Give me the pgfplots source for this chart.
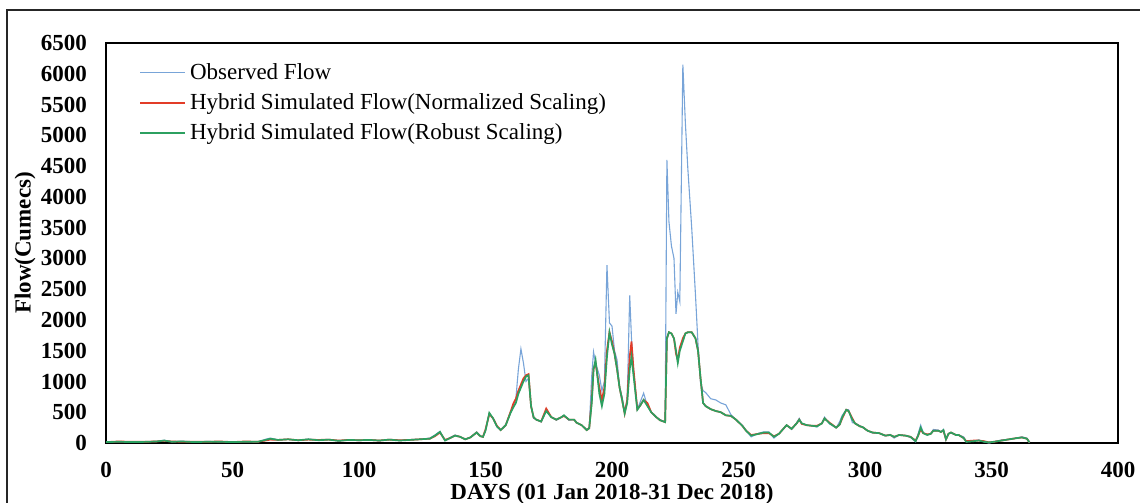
\documentclass[border=0pt]{standalone}
\usepackage{pgfplots}
\pgfplotsset{compat=1.18}
\usepackage{pgfplotstable}
\usepackage{fontspec}
\setmainfont{Liberation Serif}
\definecolor{obsblue}{RGB}{120,164,216}
\definecolor{simred}{RGB}{226,60,40}
\definecolor{simgreen}{RGB}{44,160,96}

\pgfplotstableread{
d O N R
0 20 15 15
5 20 25 20
10 15 20 15
15 20 20 18
20 25 25 25
23 45 35 40
26 20 25 20
30 30 20 25
35 15 20 15
40 25 20 20
45 20 25 20
50 15 15 15
55 20 25 20
60 15 20 20
63 60 40 50
65 80 55 70
68 50 50 50
72 60 60 60
76 40 45 45
80 65 55 60
84 45 50 45
88 60 55 55
92 30 40 35
96 55 50 50
100 40 45 45
104 55 50 50
108 35 40 40
112 60 55 55
116 40 45 40
120 55 50 50
124 60 60 60
128 80 70 70
130 130 110 120
132 190 170 180
134 40 50 40
136 90 80 80
138 130 120 120
140 100 100 100
142 60 60 60
144 90 90 90
146.5 180 170 170
148 110 110 110
149 100 100 100
150 200 220 200
151.5 480 470 490
153 400 400 400
154.5 260 280 270
156 210 210 210
158 300 290 290
160 500 520 500
161 600 640 580
162 720 720 650
163 1200 850 800
164 1530 950 900
165 1300 1050 1000
166 1000 1100 1080
167 1050 1120 1100
168 600 600 600
169 400 420 420
170 380 380 380
172 340 350 350
174 520 560 520
176 420 420 420
178 370 380 380
180 420 420 420
181 450 440 450
183 370 380 380
185 380 380 380
186 330 330 330
188 290 290 290
190 220 210 210
191 250 240 240
192 1100 700 650
192.7 1480 1200 1200
193.5 1300 1300 1350
195 1100 900 800
196 850 700 600
197 1000 900 800
198 2890 1500 1400
199 1950 1800 1800
200 1900 1650 1600
201 1500 1450 1450
202 1350 1200 1200
203 900 900 900
204 750 700 700
205 500 480 480
206 700 700 650
207 2400 1400 1200
207.7 1700 1650 1400
208.5 1200 1200 1100
210 550 550 540
211 650 600 600
212.5 810 700 700
214 600 650 600
215.5 500 500 500
217.5 420 420 420
219 380 370 370
221 340 340 340
221.7 4600 1700 1700
222.5 3600 1800 1800
223.5 3200 1780 1780
224.5 3000 1700 1700
225.3 2100 1450 1500
226 2450 1350 1300
226.8 2300 1550 1500
228 6150 1700 1650
229 5200 1780 1780
230 4440 1800 1800
231.5 3500 1800 1800
233 2400 1700 1700
234 1600 1500 1500
235 980 1050 1050
236 850 650 650
237 820 600 600
239 720 550 550
241 700 520 520
243 650 500 500
245 620 450 450
247 460 440 440
249 380 380 380
251.5 290 280 280
253 200 200 200
255 100 130 120
258 160 150 150
260 180 160 170
262 180 160 170
264 80 110 100
266 150 150 150
269 290 290 290
271 220 230 230
273 330 320 320
274 400 380 380
275 320 310 320
277 290 290 290
279 280 280 280
281 260 280 270
283 330 320 320
284 420 400 400
286 310 330 320
288.6 245 250 250
290 350 300 300
291 450 400 420
292.6 540 540 540
293.5 540 520 520
295 330 400 380
296 325 320 320
298 280 270 270
299 260 260 260
301 200 200 200
303 160 170 170
305.6 160 160 160
308 115 120 120
310 140 130 130
311.5 80 100 100
313.5 130 130 130
316 120 120 120
318 90 100 100
320 20 40 30
321 150 120 120
322 290 220 250
323 170 160 160
324.6 130 140 130
326 150 150 150
327 220 200 200
329 210 200 200
330 180 180 180
331 220 200 210
332 50 60 60
333 150 150 150
334 160 170 170
336 130 130 130
337 130 130 130
339 100 80 80
340 20 30 20
343 30 40 30
345 50 40 40
347 20 30 20
349 0 10 10
351 20 20 20
354 50 40 40
357 60 60 60
360 80 80 80
362 100 90 90
364 80 70 70
365 0 10 10
}\flowdata

\begin{document}
\begin{tikzpicture}
\path[use as bounding box] (0pt,0pt) rectangle (570pt,251.5pt);
\draw[line width=0.8pt,black!85] (3.5pt,-15pt) rectangle (580pt,246.5pt);
\begin{axis}[
  at={(53pt,30pt)}, anchor=south west,
  scale only axis, width=506pt, height=200pt,
  xmin=0, xmax=400, ymin=0, ymax=6500,
  xtick={0,50,...,400}, ytick={0,500,...,6500},
  major tick length=0pt,
  scaled ticks=false,
  /pgf/number format/1000 sep={},
  /pgf/number format/assume math mode=true,
  tick label style={font=\bfseries\fontsize{11.5}{13}\selectfont},
  xticklabel style={yshift=-6pt},
  yticklabel style={xshift=-6pt},
  axis line style={line width=1pt},
  xlabel={DAYS (01 Jan 2018-31 Dec 2018)},
  ylabel={Flow(Cumecs)},
  label style={font=\bfseries\fontsize{11.5}{13}\selectfont},
  xlabel style={at={(axis description cs:0.5,0)}, anchor=center, yshift=-25.5pt},
  ylabel style={at={(axis description cs:0,0.5)}, anchor=center, yshift=40.5pt},
  legend style={draw=none, fill=none, at={(axis description cs:0,1)}, anchor=north west,
    xshift=15.5pt, yshift=-7pt, font=\fontsize{11.5}{13}\selectfont,
    row sep=1.6pt, inner sep=1pt},
  legend cell align=left,
  legend image code/.code={\draw[#1] (0pt,0pt) -- (22.5pt,0pt);},
]
\addplot[color=obsblue, line width=0.55pt] table[x=d,y=O] {\flowdata};
\addlegendentry{Observed Flow}
\addplot[color=simred, line width=0.85pt] table[x=d,y=N] {\flowdata};
\addlegendentry{Hybrid Simulated Flow(Normalized Scaling)}
\addplot[color=simgreen, line width=0.85pt] table[x=d,y=R] {\flowdata};
\addlegendentry{Hybrid Simulated Flow(Robust Scaling)}
\end{axis}
\end{tikzpicture}
\end{document}
